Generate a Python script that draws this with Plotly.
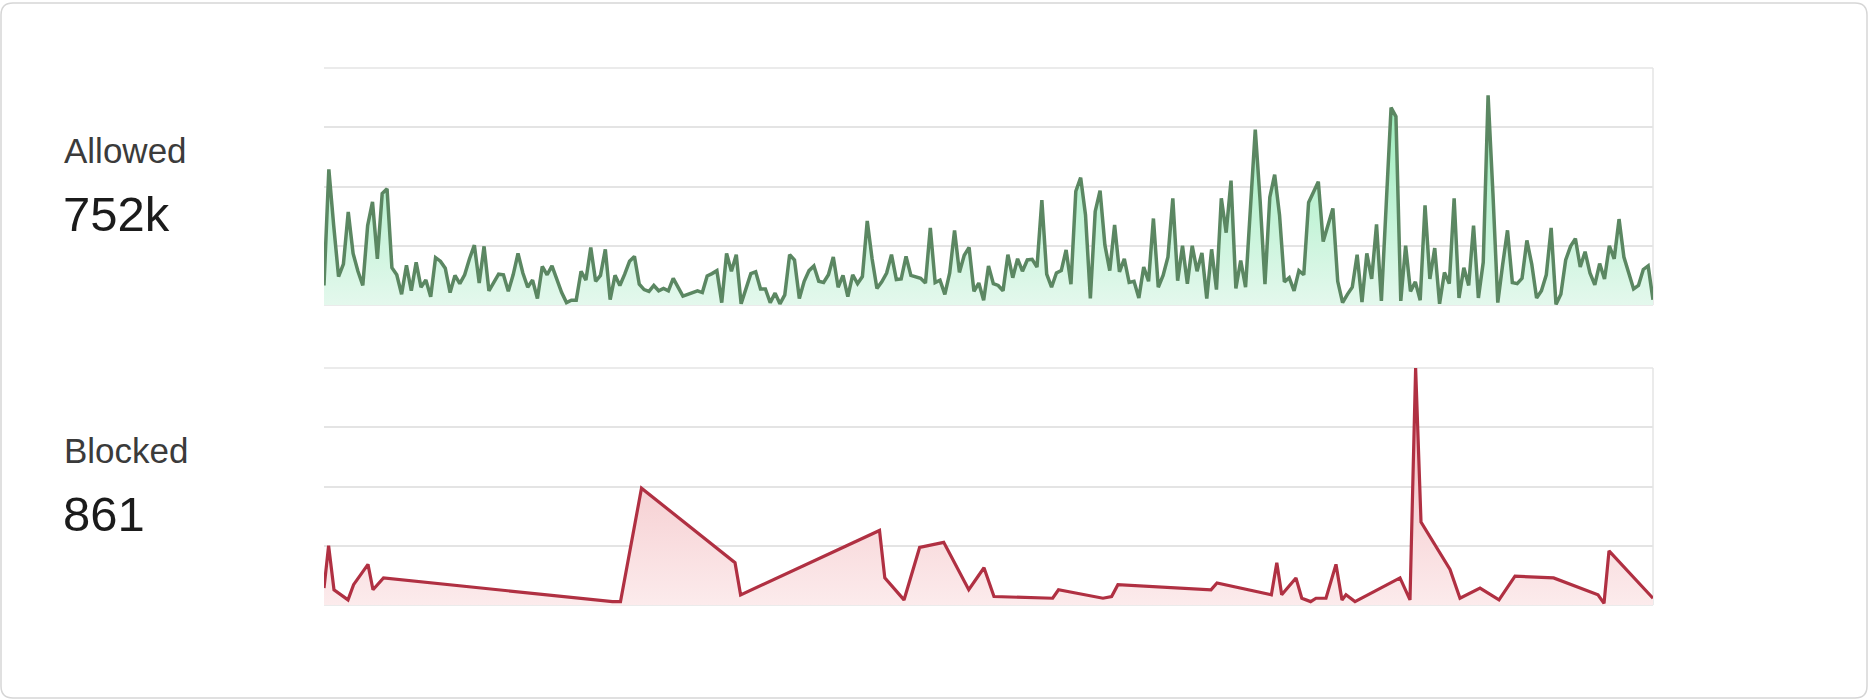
import pandas as pd
import plotly.graph_objects as go

# ---------------- data ----------------
allowed = [
    1320, 9160, 5360, 1920, 2760, 6280, 3480, 2280, 1320, 5360,
    6960, 3120, 7520, 7840, 2520, 2040, 720, 2680, 960, 2880,
    1200, 1680, 560, 3200, 2960, 2480, 840, 2000, 1440, 2040,
    3120, 4040, 1480, 3960, 960, 1560, 2080, 2040, 920, 2040,
    3480, 2160, 1200, 1680, 440, 2600, 2040, 2640, 1680, 840,
    160, 320, 320, 2280, 1680, 3880, 1600, 2000, 3760, 360,
    2000, 1320, 2080, 2960, 3280, 1400, 1040, 920, 1320, 960,
    1120, 960, 1800, 1200, 600, 720, 840, 960, 840, 1960,
    2120, 2320, 160, 3480, 2280, 3400, 80, 1080, 2120, 2240,
    1080, 1080, 160, 800, 80, 680, 3400, 3040, 440, 1600,
    2320, 2640, 1600, 1520, 2040, 3240, 1200, 2000, 560, 2040,
    1440, 1920, 5680, 3120, 1120, 1560, 2160, 3400, 1720, 1760,
    3280, 2000, 1920, 1800, 1480, 5200, 1520, 1680, 720, 2160,
    5040, 2200, 3360, 3880, 920, 1480, 320, 2640, 1440, 1320,
    960, 3400, 1840, 3120, 2280, 3040, 3080, 2560, 7080, 2080,
    1200, 2160, 2320, 3720, 1400, 7680, 8600, 6080, 440, 6320,
    7720, 4040, 2320, 5400, 2240, 3120, 1520, 1600, 480, 2560,
    1600, 5840, 1200, 2000, 3240, 7200, 1640, 4000, 1440, 4000,
    2280, 3520, 440, 3760, 1040, 7200, 4880, 8400, 1120, 3000,
    1200, 7040, 11840, 7040, 1400, 7280, 8800, 6080, 1560, 1840,
    960, 2320, 2040, 6920, 7680, 8320, 4280, 5360, 6520, 1600,
    160, 720, 1200, 3400, 200, 3480, 1760, 5440, 280, 6800,
    13320, 12720, 280, 4000, 920, 1560, 320, 6720, 1760, 3840,
    80, 2200, 1440, 7200, 480, 2520, 1320, 5360, 480, 2880,
    14160, 7520, 160, 2720, 5040, 1520, 1440, 1800, 4360, 2760,
    480, 960, 2040, 5200, 40, 720, 3040, 3960, 4480, 2560,
    3600, 2160, 1360, 2800, 1760, 4000, 3120, 5800, 3240, 2160,
    1080, 1320, 2400, 2640, 360,
]

# hours since start at which blocked requests were recorded
blocked_hours = [
    0.0, 0.95, 2.06, 4.95, 6.1, 9.07, 10.1, 12.27, 59.48, 61.13,
    65.46, 84.74, 85.89, 114.53, 115.62, 119.58, 122.8, 127.77, 132.93, 136.07,
    138.13, 150.23, 151.43, 160.6, 162.38, 163.68, 182.87, 184.11, 195.32, 196.44,
    197.45, 200.39, 201.59, 203.42, 204.52, 206.58, 208.64, 209.88, 210.7, 212.56,
    221.84, 223.9, 225.06, 226.17, 232.15, 234.21, 238.34, 242.25, 245.55, 253.51,
    262.66, 263.9, 264.93, 274.0,
]
blocked = [
    10, 35, 9, 3, 12, 24, 9, 16, 2, 2,
    69, 25, 6, 44, 16, 3, 34, 37, 9, 22,
    5, 4, 9, 4, 5, 12, 9, 13, 6, 25,
    6, 16, 4, 2, 4, 4, 24, 3, 6, 2,
    16, 3, 140, 49, 21, 4, 10, 3, 17, 16,
    6, 1, 32, 4,
]

labels = ["Allowed", "Blocked"]
totals = ["752k", "861"]

start = pd.Timestamp("2024-05-01 00:00")
allowed_times = start + pd.to_timedelta(list(range(len(allowed))), unit="h")
blocked_times = start + pd.to_timedelta(blocked_hours, unit="h")

# ---------------- layout geometry ----------------
W, H = 1874, 700
FONT = "Liberation Sans, Arial, Helvetica, sans-serif"
GRID = "#e4e4e4"


def px_x(p):
    return p / W


def px_y(p):
    return 1 - p / H


x_dom = [px_x(324), px_x(1653)]
top_dom = [px_y(305), px_y(68)]
bot_dom = [px_y(605), px_y(368)]

fig = go.Figure()

fig.add_trace(go.Scatter(
    x=allowed_times, y=allowed, mode="lines",
    line=dict(color="#5b8762", width=3.5),
    fill="tozeroy",
    fillgradient=dict(type="vertical",
                      colorscale=[[0, "#e4f8ed"], [1, "#8eecb4"]],
                      start=0, stop=16000),
    xaxis="x", yaxis="y", hoverinfo="skip", showlegend=False,
))

fig.add_trace(go.Scatter(
    x=blocked_times, y=blocked, mode="lines",
    line=dict(color="#b03042", width=3.2),
    fill="tozeroy",
    fillgradient=dict(type="vertical",
                      colorscale=[[0, "#fcebec"], [1, "#f0b6ba"]],
                      start=0, stop=140),
    xaxis="x2", yaxis="y2", hoverinfo="skip", showlegend=False,
))

xr = [allowed_times[0], allowed_times[-1]]
common_x = dict(showgrid=False, zeroline=False, showline=False,
                showticklabels=False, ticks="", range=xr, fixedrange=True)
common_y = dict(showgrid=True, gridcolor=GRID, gridwidth=1.5,
                zeroline=False, showline=False, showticklabels=False,
                ticks="", tick0=0, fixedrange=True)

fig.update_layout(
    width=W, height=H,
    margin=dict(l=0, r=0, t=0, b=0),
    paper_bgcolor="white", plot_bgcolor="rgba(0,0,0,0)",
    xaxis=dict(domain=x_dom, anchor="y", **common_x),
    yaxis=dict(domain=top_dom, anchor="x", range=[0, 16000], dtick=4000, **common_y),
    xaxis2=dict(domain=x_dom, anchor="y2", **common_x),
    yaxis2=dict(domain=bot_dom, anchor="x2", range=[0, 140], dtick=35, **common_y),
)

shapes = []
# frame lines of each sparkline panel (top edge, bottom edge, right edge)
for xa, ya in (("x", "y"), ("x2", "y2")):
    xr_ = f"{xa} domain"
    yr_ = f"{ya} domain"
    for (x0, y0, x1, y1) in ((0, 1, 1, 1), (0, 0, 1, 0), (1, 0, 1, 1)):
        shapes.append(dict(type="line", xref=xr_, yref=yr_, x0=x0, y0=y0,
                           x1=x1, y1=y1, line=dict(color=GRID, width=1.5),
                           layer="below"))

# card border with rounded corners
cx0, cx1 = px_x(1), px_x(1867)
cyT, cyB = px_y(3), px_y(698)
rx, ry = 12 / W, 12 / H
path = (f"M {cx0+rx},{cyT} L {cx1-rx},{cyT} Q {cx1},{cyT} {cx1},{cyT-ry} "
        f"L {cx1},{cyB+ry} Q {cx1},{cyB} {cx1-rx},{cyB} "
        f"L {cx0+rx},{cyB} Q {cx0},{cyB} {cx0},{cyB+ry} "
        f"L {cx0},{cyT-ry} Q {cx0},{cyT} {cx0+rx},{cyT} Z")
shapes.append(dict(type="path", xref="paper", yref="paper", path=path,
                   line=dict(color="#d6d6d6", width=1.5), layer="below"))
fig.update_layout(shapes=shapes)

annotations = []
label_y = [150, 450]
total_y = [214, 514]
for lab, tot, ly, ty in zip(labels, totals, label_y, total_y):
    annotations.append(dict(text=lab, xref="paper", yref="paper",
                            x=px_x(62), y=px_y(ly), xanchor="left", yanchor="middle",
                            showarrow=False,
                            font=dict(family=FONT, size=35, color="#3b3b3b")))
    annotations.append(dict(text=tot, xref="paper", yref="paper",
                            x=px_x(61), y=px_y(ty), xanchor="left", yanchor="middle",
                            showarrow=False,
                            font=dict(family=FONT, size=49, color="#1b1b1b")))
fig.update_layout(annotations=annotations)

fig.write_html(
    "out.html",
    config={"displayModeBar": False},
    post_script="document.body.style.margin='0px';document.body.style.overflow='hidden';",
)
